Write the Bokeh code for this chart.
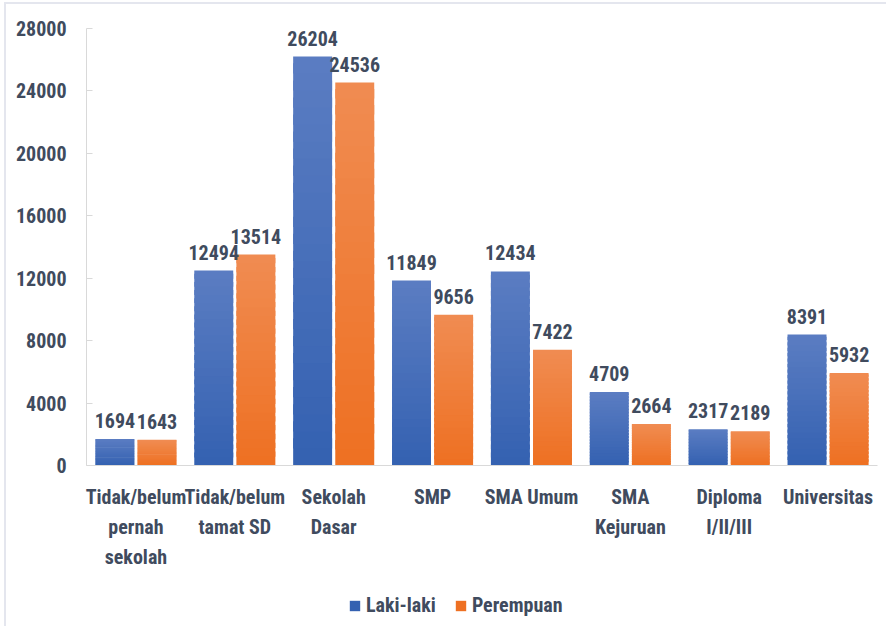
from bokeh.plotting import figure
from bokeh.layouts import column
from bokeh.models import ColumnDataSource, FactorRange, Legend, LegendItem, FixedTicker, Range1d
from bokeh.transform import dodge
from bokeh.core.properties import value
from bokeh.embed import file_html
from bokeh.resources import INLINE

categories = ["Tidak/belum\npernah\nsekolah", "Tidak/belum\ntamat SD", "Sekolah\nDasar", "SMP",
              "SMA Umum", "SMA\nKejuruan", "Diploma\nI/II/III", "Universitas"]
laki = [1694, 12494, 26204, 11849, 12434, 4709, 2317, 8391]
perempuan = [1643, 13514, 24536, 9656, 7422, 2664, 2189, 5932]
series_names = ["Laki-laki", "Perempuan"]
y_ticks = [0, 4000, 8000, 12000, 16000, 20000, 24000, 28000]

FONT = "Roboto Condensed, Liberation Sans Narrow, Roboto"
TXT = "#404b5e"
BLUE = ("#3461b1", "#5b7dc2")     # bottom, top
ORANGE = ("#ee7022", "#f08c52")
NSLICE = 24
OFF = 0.213
BW = 0.394


def mix(c0, c1, t):
    a = [int(c0[i:i + 2], 16) for i in (1, 3, 5)]
    b = [int(c1[i:i + 2], 16) for i in (1, 3, 5)]
    return "#%02x%02x%02x" % tuple(round(a[k] + (b[k] - a[k]) * t) for k in range(3))


src = ColumnDataSource(dict(cat=categories, laki=laki, perempuan=perempuan,
                            laki_t=[str(v) for v in laki], per_t=[str(v) for v in perempuan]))

p = figure(width=880, height=579, x_range=FactorRange(*categories), y_range=Range1d(0, 28000),
           output_backend="svg", toolbar_location=None,
           min_border_left=80, min_border_right=9, min_border_top=24, min_border_bottom=118)
p.outline_line_color = None
p.xgrid.grid_line_color = None
p.ygrid.grid_line_color = None

for vals, off, cols in ((laki, -OFF, BLUE), (perempuan, OFF, ORANGE)):
    xs, bots, tops, fills = [], [], [], []
    for c, v in zip(categories, vals):
        for i in range(NSLICE):
            xs.append(c)
            bots.append(v * i / NSLICE)
            tops.append(v * min(i + 1.6, NSLICE) / NSLICE)
            fills.append(mix(cols[0], cols[1], (i + 0.5) / NSLICE))
    gsrc = ColumnDataSource(dict(x=xs, bottom=bots, top=tops, fill=fills))
    p.vbar(x=dodge("x", off, range=p.x_range), bottom="bottom", top="top", width=BW,
           source=gsrc, fill_color="fill", line_color=None)

for txt, ycol, off in (("laki_t", "laki", -OFF), ("per_t", "perempuan", OFF)):
    p.text(x=dodge("cat", off, range=p.x_range), y=ycol, text=txt, source=src,
           text_align="center", text_baseline="bottom", y_offset=-11,
           text_font=value(FONT), text_font_size="20px", text_font_style="bold", text_color=TXT)

p.yaxis.ticker = FixedTicker(ticks=y_ticks)
p.yaxis.minor_tick_line_color = None
p.yaxis.major_tick_out = 0
p.yaxis.major_tick_in = 6
p.yaxis.major_tick_line_color = "#d9d9d9"
p.yaxis.axis_line_color = "#d9d9d9"
p.yaxis.major_label_text_font = FONT
p.yaxis.major_label_text_font_size = "20px"
p.yaxis.major_label_text_font_style = "bold"
p.yaxis.major_label_text_color = TXT
p.yaxis.major_label_standoff = 20

p.xaxis.major_tick_line_color = None
p.xaxis.minor_tick_line_color = None
p.xaxis.axis_line_color = "#d9d9d9"
p.xaxis.major_label_text_font = FONT
p.xaxis.major_label_text_font_size = "20px"
p.xaxis.major_label_text_font_style = "bold"
p.xaxis.major_label_text_color = TXT
p.xaxis.major_label_text_line_height = 1.25
p.xaxis.major_label_standoff = 13

# legend in its own small figure below the chart
lg = figure(width=880, height=43, x_range=Range1d(0, 1), y_range=Range1d(0, 1),
            output_backend="svg", toolbar_location=None,
            min_border_left=0, min_border_right=0, min_border_top=0, min_border_bottom=0)
lg.axis.visible = False
lg.grid.visible = False
lg.outline_line_color = None
lr1 = lg.rect(x=[5], y=[5], width=1, height=1, fill_color=BLUE[0], line_color=None)
lr2 = lg.rect(x=[5], y=[5], width=1, height=1, fill_color=ORANGE[0], line_color=None)
legend = Legend(items=[LegendItem(label=series_names[0], renderers=[lr1]),
                       LegendItem(label=series_names[1], renderers=[lr2])],
                location=(262, 9), orientation="horizontal",
                label_text_font=FONT, label_text_font_size="20px", label_text_font_style="bold",
                label_text_color=TXT, glyph_width=13, glyph_height=13, spacing=18,
                label_standoff=5, padding=4, margin=0, border_line_color=None,
                background_fill_alpha=0)
lg.add_layout(legend, "center")

layout = column(p, lg, spacing=0,
                styles={"border-top": "2px solid #e4e6ee", "border-left": "2px solid #e4e6ee",
                        "margin-left": "4px", "margin-top": "2px"})
open("out.html", "w").write(file_html(layout, INLINE))
